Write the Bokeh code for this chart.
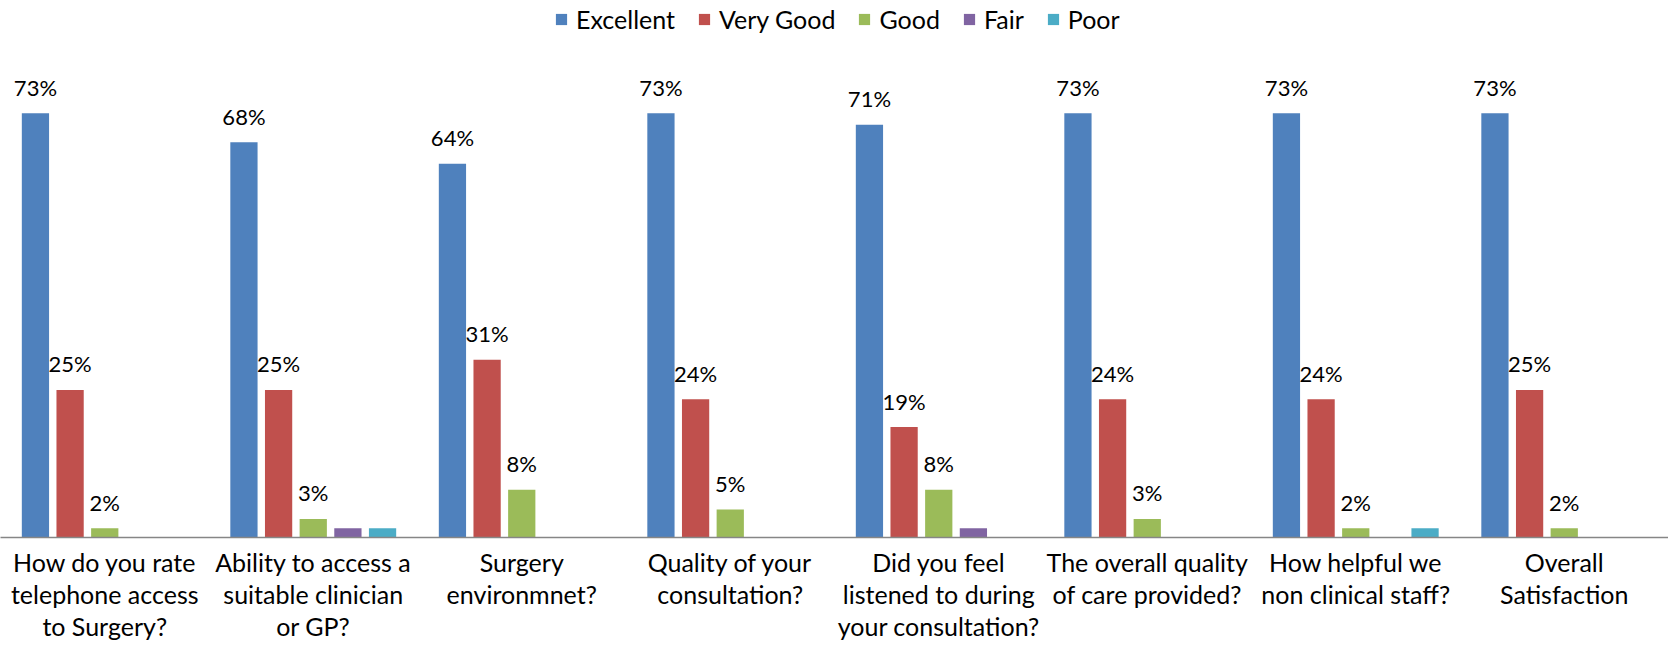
from bokeh.plotting import figure
from bokeh.models import ColumnDataSource, FactorRange, Range1d, Legend, LegendItem
from bokeh.transform import dodge
from bokeh.embed import file_html
from bokeh.resources import INLINE
from bokeh.core.properties import value

questions = [
    "How do you rate\ntelephone access\nto Surgery?",
    "Ability to access a\nsuitable clinician\nor GP?",
    "Surgery\nenvironmnet?",
    "Quality of your\nconsultation?",
    "Did you feel\nlistened to during\nyour consultation?",
    "The overall quality\nof care provided?",
    "How helpful we\nnon clinical staff?",
    "Overall\nSatisfaction",
]
series_names = ["Excellent", "Very Good", "Good", "Fair", "Poor"]
excellent = [73.0, 68.0, 64.3, 73.0, 71.0, 73.0, 73.0, 73.0]
very_good = [25.4, 25.4, 30.6, 23.8, 19.0, 23.8, 23.8, 25.4]
good = [1.6, 3.2, 8.2, 4.8, 8.2, 3.2, 1.6, 1.6]
fair = [0.0, 1.6, 0.0, 0.0, 1.6, 0.0, 0.0, 0.0]
poor = [0.0, 1.6, 0.0, 0.0, 0.0, 0.0, 1.6, 0.0]
colors = ["#4F81BD", "#C0504D", "#9BBB59", "#8064A2", "#4BACC6"]
labelled = [True, True, True, False, False]

FONT = "Lato"
values = [excellent, very_good, good, fair, poor]
data = {"q": questions}
for name, vals in zip(series_names, values):
    data[name] = vals
    data[name + "_lbl"] = [f"{round(v)}%" for v in vals]
src = ColumnDataSource(data)

p = figure(
    x_range=FactorRange(*questions, range_padding=0),
    y_range=Range1d(0, 92.4),
    width=1668, height=644,
    output_backend="svg", toolbar_location=None,
    min_border_left=0, min_border_right=0, min_border_top=0, min_border_bottom=100,
)
p.outline_line_color = None
p.xgrid.visible = False
p.ygrid.visible = False
p.yaxis.visible = False

step = 0.1662
bw = 0.1307
items = []
for i, (name, col, lab) in enumerate(zip(series_names, colors, labelled)):
    off = (i - 2) * step
    r = p.vbar(x=dodge("q", off, range=p.x_range), top=name, width=bw, source=src,
               fill_color=col, line_color=None)
    items.append(LegendItem(label=name, renderers=[r]))
    if lab:
        p.text(x=dodge("q", off, range=p.x_range), y=name, text=name + "_lbl", source=src,
               text_align="center", text_baseline="middle", y_offset=-26,
               text_font=value(FONT), text_font_size="22px", text_color="#000000")

ax = p.xaxis[0]
ax.axis_line_color = "#868686"
ax.axis_line_width = 1.5
ax.major_tick_line_color = None
ax.minor_tick_line_color = None
ax.major_tick_out = 0
ax.minor_tick_out = 0
ax.major_label_standoff = 9
ax.major_label_text_font = FONT
ax.major_label_text_font_size = "25px"
ax.major_label_text_line_height = 1.08
ax.major_label_text_color = "#000000"

legend = Legend(items=items, location=(554, 503), orientation="horizontal")
legend.border_line_color = None
legend.background_fill_alpha = 0
legend.glyph_width = 14
legend.glyph_height = 14
legend.label_standoff = 8
legend.spacing = 22
legend.padding = 0
legend.margin = 0
legend.label_text_font = FONT
legend.label_text_font_size = "25px"
legend.label_text_color = "#000000"
p.add_layout(legend)

open("out.html", "w").write(file_html(p, INLINE))
